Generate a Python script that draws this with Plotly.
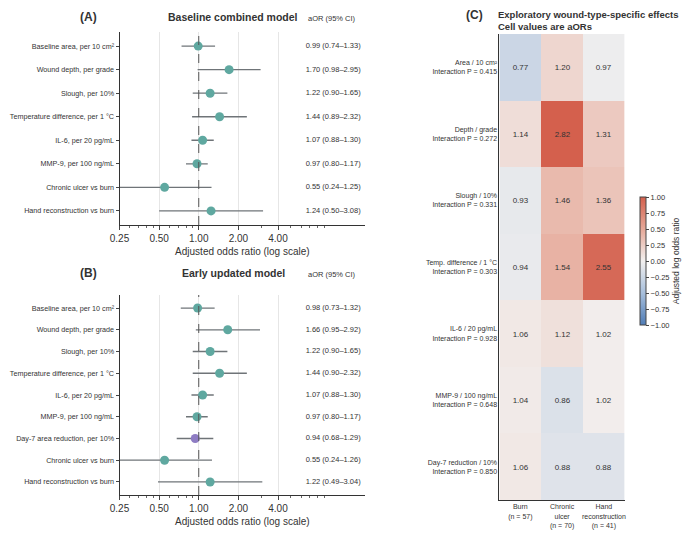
import numpy as np
import plotly.graph_objects as go

# forest data
labels_a = ["Baseline area, per 10 cm²", "Wound depth, per grade", "Slough, per 10%",
            "Temperature difference, per 1 °C", "IL-6, per 20 pg/mL", "MMP-9, per 100 ng/mL",
            "Chronic ulcer vs burn", "Hand reconstruction vs burn"]
or_a = [0.99, 1.70, 1.22, 1.44, 1.07, 0.97, 0.55, 1.24]
lo_a = [0.74, 0.98, 0.90, 0.89, 0.88, 0.80, 0.24, 0.50]
hi_a = [1.33, 2.95, 1.65, 2.32, 1.30, 1.17, 1.25, 3.08]

labels_b = ["Baseline area, per 10 cm²", "Wound depth, per grade", "Slough, per 10%",
            "Temperature difference, per 1 °C", "IL-6, per 20 pg/mL", "MMP-9, per 100 ng/mL",
            "Day-7 area reduction, per 10%", "Chronic ulcer vs burn", "Hand reconstruction vs burn"]
or_b = [0.98, 1.66, 1.22, 1.44, 1.07, 0.97, 0.94, 0.55, 1.22]
lo_b = [0.73, 0.95, 0.90, 0.90, 0.88, 0.80, 0.68, 0.24, 0.49]
hi_b = [1.32, 2.92, 1.65, 2.32, 1.30, 1.17, 1.29, 1.26, 3.04]

# heatmap data
heat_rows = ["Area / 10 cm²<br>Interaction P = 0.415", "Depth / grade<br>Interaction P = 0.272",
             "Slough / 10%<br>Interaction P = 0.331", "Temp. difference / 1 °C<br>Interaction P = 0.303",
             "IL-6 / 20 pg/mL<br>Interaction P = 0.928", "MMP-9 / 100 ng/mL<br>Interaction P = 0.648",
             "Day-7 reduction / 10%<br>Interaction P = 0.850"]
heat_cols = ["Burn<br>(n = 57)", "Chronic<br>ulcer<br>(n = 70)", "Hand<br>reconstruction<br>(n = 41)"]
heat_vals = [[0.77, 1.20, 0.97], [1.14, 2.82, 1.31], [0.93, 1.46, 1.36], [0.94, 1.54, 2.55],
             [1.06, 1.12, 1.02], [1.04, 0.86, 1.02], [1.06, 0.88, 0.88]]

TEAL = "#5fa8a0"
PURPLE = "#8e7cc3"
FONT = "Liberation Sans"

# page has an 8px body margin, so the figure is offset by 8px
W, H, OFF = 684, 526, 8
def X(px):
    return (px - OFF) / W
def Y(py):
    return 1 - (py - OFF) / H

fig = go.Figure()

def forest(labels, ors, los, his, xa, ya, colors):
    for lab, o, l, h in zip(labels, ors, los, his):
        fig.add_trace(go.Scatter(x=[l, h], y=[lab, lab], mode="lines",
                                 line=dict(color="#6f7478", width=1.3),
                                 xaxis=xa, yaxis=ya, showlegend=False, hoverinfo="skip"))
    fig.add_trace(go.Scatter(x=ors, y=labels, mode="markers",
                             marker=dict(color=colors, size=9),
                             xaxis=xa, yaxis=ya, showlegend=False))
    fig.add_trace(go.Scatter(x=[17] * len(labels), y=labels, mode="text",
                             text=[f"{o:.2f} ({l:.2f}–{h:.2f})" for o, l, h in zip(ors, los, his)],
                             textposition="middle left", textfont=dict(size=7.5, color="#333"),
                             xaxis=xa, yaxis=ya, showlegend=False, hoverinfo="skip"))

forest(labels_a, or_a, lo_a, hi_a, "x", "y", [TEAL] * len(labels_a))
colors_b = [PURPLE if "Day-7" in s else TEAL for s in labels_b]
forest(labels_b, or_b, lo_b, hi_b, "x2", "y2", colors_b)

z = np.log(np.array(heat_vals))
fig.add_trace(go.Heatmap(
    z=z, x=heat_cols, y=heat_rows, text=[[f"{v:.2f}" for v in r] for r in heat_vals],
    texttemplate="%{text}", textfont=dict(size=8, color="#333"),
    zmin=-1, zmax=1, xaxis="x3", yaxis="y3",
    colorscale=[[0, "#4f7cb6"], [0.25, "#a7bfdc"], [0.5, "#f2f0ef"], [0.75, "#e6a898"], [1, "#d4604d"]],
    colorbar=dict(x=X(638), xanchor="left", y=Y(261), len=148 / H, thickness=6,
                  tickvals=[-1, -0.75, -0.5, -0.25, 0, 0.25, 0.5, 0.75, 1],
                  ticktext=["−1.00", "−0.75", "−0.50", "−0.25", "0.00", "0.25", "0.50", "0.75", "1.00"],
                  tickfont=dict(size=7.5), ticks="outside", ticklen=3, outlinewidth=1,
                  title=dict(text="Adjusted log odds ratio", side="right", font=dict(size=8.5)))))

xcommon = dict(type="log", range=[np.log10(0.25), np.log10(18.4)], automargin=False,
               tickvals=[0.25, 0.5, 1, 2, 4], ticktext=["0.25", "0.50", "1.00", "2.00", "4.00"],
               showgrid=True, gridcolor="#e6e6e6", showline=True, linecolor="#333",
               ticks="outside", ticklen=4,
               minor=dict(ticks="outside", ticklen=2, tickcolor="#666", showgrid=False,
                          tickvals=[0.3, 0.35, 0.4, 0.45, 0.6, 0.7, 0.8, 0.9, 3, 5, 6, 7, 8, 9]),
               tickfont=dict(size=10), zeroline=False)
ycommon = dict(showline=True, linecolor="#333", ticks="outside", automargin=False,
               ticklen=3, tickfont=dict(size=7.2), showgrid=False)

def ann(text, px, py, size, bold=False, anchor="center"):
    return dict(text=f"<b>{text}</b>" if bold else text, x=X(px), y=Y(py), xref="paper", yref="paper",
                xanchor=anchor, yanchor="middle", showarrow=False, font=dict(size=size))

fig.update_layout(
    width=W, height=H, margin=dict(l=0, r=0, t=0, b=0),
    paper_bgcolor="white", plot_bgcolor="white", font=dict(family=FONT, color="#333"),
    xaxis=dict(domain=[X(121), X(370)], anchor="y",
               title=dict(text="Adjusted odds ratio (log scale)", font=dict(size=10), standoff=4), **xcommon),
    yaxis=dict(domain=[Y(225), Y(32)], anchor="x", range=[7.6, -0.6], **ycommon),
    xaxis2=dict(domain=[X(121), X(370)], anchor="y2",
                title=dict(text="Adjusted odds ratio (log scale)", font=dict(size=10), standoff=4), **xcommon),
    yaxis2=dict(domain=[Y(495), Y(295)], anchor="x2", range=[8.6, -0.6], **ycommon),
    xaxis3=dict(domain=[X(506), X(633)], anchor="y3", tickfont=dict(size=7), showline=True,
                linecolor="#333", ticks="", automargin=False),
    yaxis3=dict(domain=[Y(500), Y(34)], anchor="x3", autorange="reversed", tickfont=dict(size=7),
                showline=True, linecolor="#333", ticks="", automargin=False),
    shapes=[dict(type="line", xref="x", yref="y domain", x0=1, x1=1, y0=0, y1=1,
                 line=dict(color="#555", width=1, dash="dash")),
            dict(type="line", xref="x2", yref="y2 domain", x0=1, x1=1, y0=0, y1=1,
                 line=dict(color="#555", width=1, dash="dash"))],
    annotations=[
        ann("(A)", 90, 17, 12, True),
        ann("Baseline combined model", 236, 17, 10.5, True),
        ann("aOR (95% CI)", 336, 18, 7.5),
        ann("(B)", 90, 273, 12, True),
        ann("Early updated model", 236, 273, 10.5, True),
        ann("aOR (95% CI)", 336, 274, 7.5),
        ann("(C)", 481, 15, 12, True),
        dict(text="<b>Exploratory wound-type-specific effects<br>Cell values are aORs</b>", x=X(503), y=Y(7),
             xref="paper", yref="paper", xanchor="left", yanchor="top", align="left", showarrow=False,
             font=dict(size=9.5)),
    ],
)

fig.write_html("out.html")
